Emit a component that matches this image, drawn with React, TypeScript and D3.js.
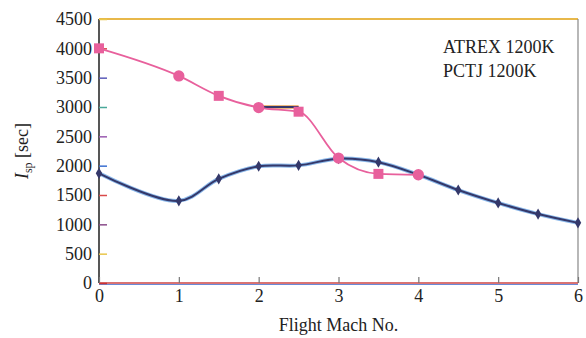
import { useRef, useEffect } from "react";
import * as d3 from "d3";

// chart data
const atrexMach = [0, 1, 1.5, 2, 2.5, 3, 3.5, 4];
const atrexIsp = [4000, 3530, 3190, 2990, 2920, 2130, 1860, 1845];
const atrexShape = ["square", "circle", "square", "circle", "square", "circle", "square", "circle"];
const plateauMach = [2, 2.5];
const plateauIsp = [3000, 3000];
const pctjMach = [0, 1, 1.5, 2, 2.5, 3, 3.5, 4, 4.5, 5, 5.5, 6];
const pctjIsp = [1870, 1400, 1775, 1990, 2005, 2120, 2060, 1845, 1585, 1365, 1175, 1025];
const yTicks = [0, 500, 1000, 1500, 2000, 2500, 3000, 3500, 4000, 4500];
const xTicks = [0, 1, 2, 3, 4, 5, 6];
const yTickColors = ["#c33", "#e8c64a", "#8a4c8a", "#d94a4a", "#3a6fd0", "#9a5ab0", "#4aa89a", "#5a5ab8", "#d94a4a", "#e8c64a"];
const legend = ["ATREX 1200K", "PCTJ 1200K"];

const W = 586;
const H = 338;
const margin = { top: 19, right: 8, bottom: 55, left: 99 };
const PINK = "#e8609c";
const DARK = "#34386a";
const FONT = "'Liberation Serif', 'Times New Roman', serif";

function App() {
  const svgRef = useRef<SVGSVGElement>(null);

  useEffect(() => {
    const svg = d3.select(svgRef.current);
    svg.selectAll("*").remove();

    const x = d3.scaleLinear().domain([0, 6]).range([margin.left, W - margin.right]);
    const y = d3.scaleLinear().domain([0, 4500]).range([H - margin.bottom, margin.top]);
    const x0 = x(0), x1 = x(6), y0 = y(0), y1 = y(4500);

    // frame
    svg.append("line").attr("x1", x0).attr("x2", x1).attr("y1", y1).attr("y2", y1)
      .attr("stroke", "#e8b84a").attr("stroke-width", 2);
    svg.append("line").attr("x1", x1).attr("x2", x1).attr("y1", y1).attr("y2", y0)
      .attr("stroke", "#888").attr("stroke-width", 1.2);
    svg.append("line").attr("x1", x0).attr("x2", x1).attr("y1", y0).attr("y2", y0)
      .attr("stroke", "#c44").attr("stroke-width", 1.6);
    svg.append("line").attr("x1", x0).attr("x2", x1).attr("y1", y0 + 1.5).attr("y2", y0 + 1.5)
      .attr("stroke", "#6a8ad8").attr("stroke-width", 1);
    svg.append("line").attr("x1", x0).attr("x2", x0).attr("y1", y1).attr("y2", y0)
      .attr("stroke", "#444").attr("stroke-width", 1.8);

    // y axis
    const yAxis = svg.append("g").attr("transform", `translate(${x0},0)`)
      .call(d3.axisLeft(y).tickValues(yTicks).tickFormat(d3.format("d")).tickSize(-8).tickPadding(7));
    yAxis.attr("font-family", FONT).attr("font-size", 18);
    yAxis.select(".domain").remove();
    yAxis.selectAll("line").attr("stroke", (_d, i) => yTickColors[i]).attr("stroke-width", 1.5);
    yAxis.selectAll("text").attr("fill", "#222").style("font-family", FONT).style("font-size", "18px");

    // x axis
    const xAxis = svg.append("g").attr("transform", `translate(0,${y0})`)
      .call(d3.axisBottom(x).tickValues(xTicks).tickFormat(d3.format("d")).tickSize(-6).tickPadding(6));
    xAxis.attr("font-family", FONT).attr("font-size", 18);
    xAxis.select(".domain").remove();
    xAxis.selectAll("line").attr("stroke", "#777").attr("stroke-width", 1.2);
    xAxis.selectAll("text").attr("fill", "#222").style("font-family", FONT).style("font-size", "18px");

    // axis titles
    svg.append("text").attr("x", (x0 + x1) / 2).attr("y", 331).attr("text-anchor", "middle")
      .attr("font-family", FONT).attr("font-size", 18).attr("fill", "#222").text("Flight Mach No.");
    const yl = svg.append("text").attr("transform", `translate(28,${(y0 + y1) / 2}) rotate(-90)`)
      .attr("text-anchor", "middle").attr("font-family", FONT).attr("font-size", 18).attr("fill", "#222");
    yl.append("tspan").attr("font-style", "italic").text("I");
    yl.append("tspan").attr("font-size", 12).attr("dy", 4).text("sp");
    yl.append("tspan").attr("dy", -4).text(" [sec]");

    // legend text
    legend.forEach((t, i) => {
      svg.append("text").attr("x", 443).attr("y", 53 + i * 24)
        .attr("font-family", FONT).attr("font-size", 18).attr("fill", "#222").text(t);
    });

    // PCTJ curve
    const pctj = pctjMach.map((m, i) => [m, pctjIsp[i]] as [number, number]);
    const smooth = d3.line<[number, number]>().x(d => x(d[0])).y(d => y(d[1])).curve(d3.curveCatmullRom.alpha(0.5));
    svg.append("path").attr("d", smooth(pctj)).attr("fill", "none").attr("stroke", "#8ab8ea").attr("stroke-width", 4);
    svg.append("path").attr("d", smooth(pctj)).attr("fill", "none").attr("stroke", DARK).attr("stroke-width", 2);
    svg.selectAll(".pm").data(pctj).join("path").attr("class", "pm")
      .attr("transform", d => `translate(${x(d[0])},${y(d[1])})`)
      .attr("d", d3.symbol(d3.symbolDiamond, 36)())
      .attr("fill", DARK);

    // ATREX plateau segment
    const plateau = plateauMach.map((m, i) => [m, plateauIsp[i]] as [number, number]);
    const straight = d3.line<[number, number]>().x(d => x(d[0])).y(d => y(d[1]));
    svg.append("path").attr("d", straight(plateau)).attr("fill", "none").attr("stroke", "#e8a050").attr("stroke-width", 3.5);
    svg.append("path").attr("d", straight(plateau)).attr("fill", "none").attr("stroke", DARK).attr("stroke-width", 1.8);

    // ATREX curve
    const atrex = atrexMach.map((m, i) => [m, atrexIsp[i]] as [number, number]);
    const mono = d3.line<[number, number]>().x(d => x(d[0])).y(d => y(d[1])).curve(d3.curveMonotoneX);
    svg.append("path").attr("d", mono(atrex)).attr("fill", "none").attr("stroke", PINK).attr("stroke-width", 1.8);
    svg.selectAll(".am").data(atrex).join("path").attr("class", "am")
      .attr("transform", d => `translate(${x(d[0])},${y(d[1])})`)
      .attr("d", (_d, i) => d3.symbol(atrexShape[i] === "square" ? d3.symbolSquare : d3.symbolCircle, 100)())
      .attr("fill", PINK);
  }, []);

  return (
    <svg ref={svgRef} width={W} height={H}
      style={{ position: "absolute", left: 0, top: 0, background: "#fff" }} />
  );
}

export default App;
